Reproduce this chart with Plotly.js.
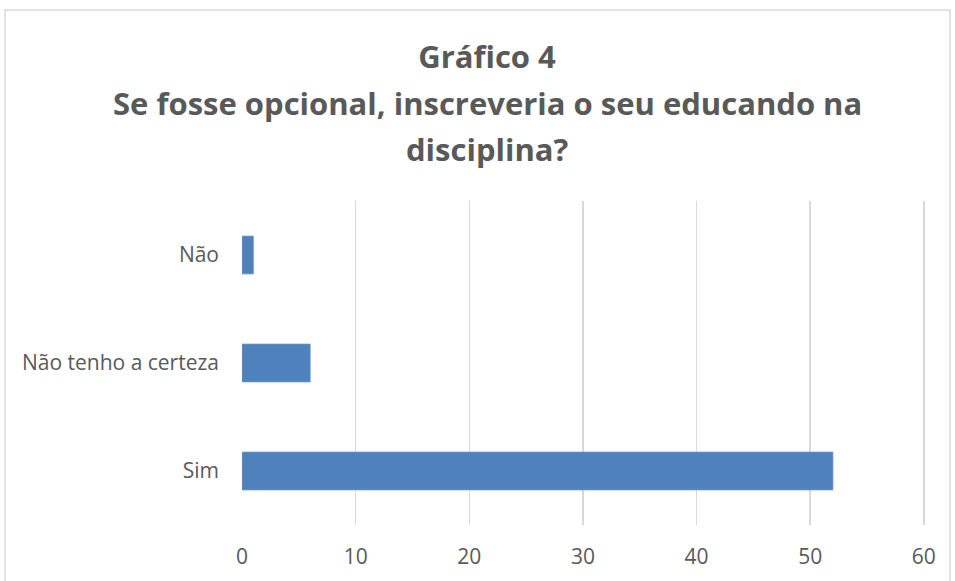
<!DOCTYPE html>
<html>
<head>
<meta charset="utf-8">
<script src="https://cdn.plot.ly/plotly-3.0.1.min.js"></script>
<style>html,body{margin:0;padding:0;background:#fff;}#chart{width:955px;height:581px;}</style>
</head>
<body>
<div id="chart"></div>
<script>
const categories = ["Sim", "Não tenho a certeza", "Não"];
const values = [52, 6, 1];
const xTicks = [0, 10, 20, 30, 40, 50, 60];
const titleLines = ["Gráfico 4", "Se fosse opcional, inscreveria o seu educando na", "disciplina?"];

const trace = {
  type: "bar",
  orientation: "h",
  y: categories,
  x: values,
  marker: {color: "#4F81BD", line: {color: "#6a95c9", width: 0.8}},
  hoverinfo: "x+y"
};

const font = "Open Sans, Liberation Sans, sans-serif";
const titleFont = {family: font, size: 31, color: "#595959"};
const plotTop = 201, plotBottom = 525, plotH = plotBottom - plotTop;
const titleCenterX = 487, lineCenters = [57, 103, 149];

const layout = {
  width: 955, height: 581,
  margin: {l: 242, r: 30, t: plotTop, b: 581 - plotBottom},
  paper_bgcolor: "#fff", plot_bgcolor: "#fff",
  showlegend: false,
  bargap: 0.65,
  title: {
    text: "<b>" + titleLines[0] + "</b>",
    font: titleFont,
    xref: "container", x: titleCenterX / 955, xanchor: "center",
    yref: "container", y: 1 - lineCenters[0] / 581, yanchor: "middle"
  },
  annotations: titleLines.slice(1).map((t, i) => ({
    text: "<b>" + t + "</b>", showarrow: false,
    xref: "paper", x: (titleCenterX - 242) / 683, xanchor: "center",
    yref: "paper", y: (plotBottom - lineCenters[i + 1]) / plotH, yanchor: "middle",
    font: titleFont
  })),
  xaxis: {
    range: [0, 60.1],
    tickvals: xTicks,
    ticktext: xTicks.map(String),
    showgrid: true, gridcolor: "#d9d9d9", gridwidth: 1.5,
    zeroline: false, showline: false, ticks: "",
    ticklabelstandoff: 17,
    tickfont: {family: font, size: 21, color: "#595959"},
    fixedrange: true
  },
  yaxis: {
    type: "category",
    categoryorder: "array", categoryarray: categories,
    showgrid: false, zeroline: false, showline: false, ticks: "",
    ticklabelstandoff: 22,
    tickfont: {family: font, size: 21, color: "#595959"},
    fixedrange: true
  },
  shapes: [{
    type: "rect", xref: "paper", yref: "paper",
    x0: (5 - 242) / 683, x1: (950 - 242) / 683,
    y0: (plotBottom - 600) / plotH, y1: (plotBottom - 10) / plotH,
    line: {color: "#d9d9d9", width: 1.5}, fillcolor: "rgba(0,0,0,0)", layer: "below"
  }]
};
Plotly.newPlot("chart", [trace], layout, {displayModeBar: false, staticPlot: true});
</script>
</body>
</html>
